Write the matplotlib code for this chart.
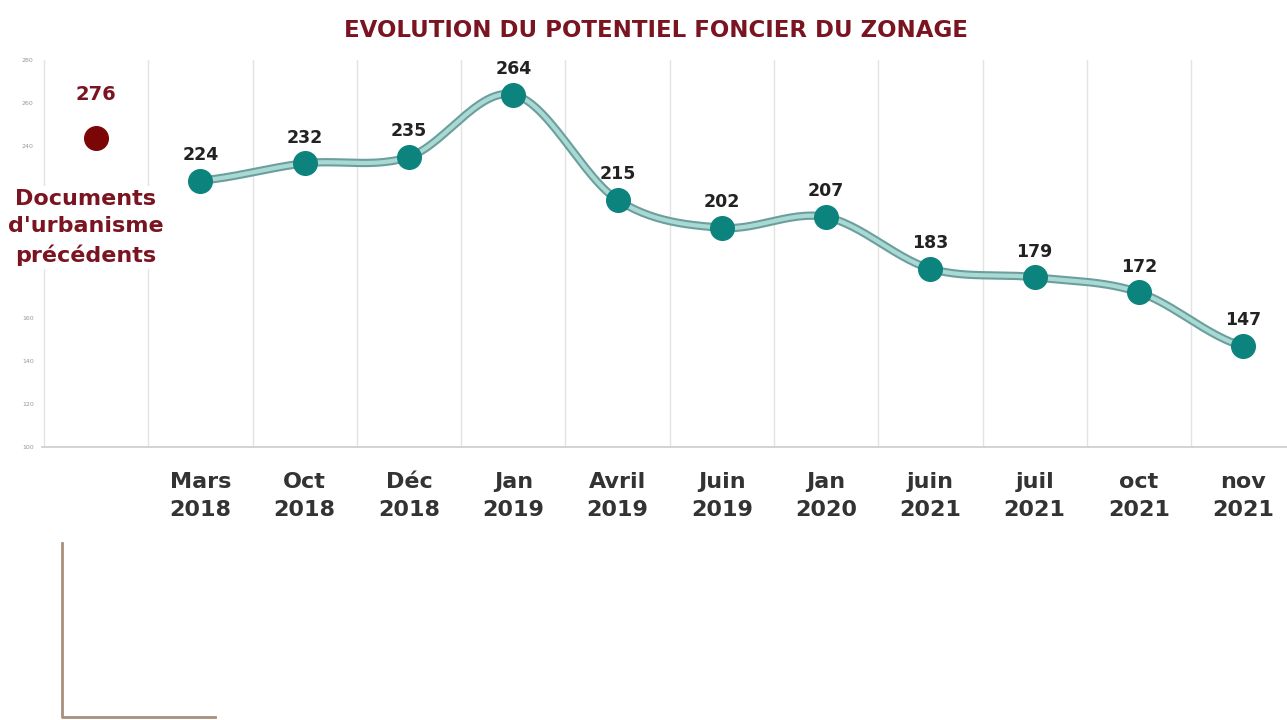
import numpy as np
import matplotlib.pyplot as plt
from matplotlib.lines import Line2D

# Data
months = ['Mars\n2018', 'Oct\n2018', 'Déc\n2018', 'Jan\n2019', 'Avril\n2019',
          'Juin\n2019', 'Jan\n2020', 'juin\n2021', 'juil\n2021', 'oct\n2021', 'nov\n2021']
potentiel = [224, 232, 235, 264, 215, 202, 207, 183, 179, 172, 147]
prev_value = 276
prev_label = "Documents\nd'urbanisme\nprécédents"
yticks = [100, 120, 140, 160, 240, 260, 280]  # 180-220 are hidden behind the label

teal = '#0d837e'
dark_red = '#7a1420'

plt.rcParams['font.family'] = ['DejaVu Sans']


def catmull_rom(x, y, n=30):
    # smooth curve through all points
    x = np.asarray(x, float)
    y = np.asarray(y, float)
    px = np.concatenate([[2 * x[0] - x[1]], x, [2 * x[-1] - x[-2]]])
    py = np.concatenate([[y[0]], y, [y[-1]]])
    xs, ys = [], []
    t = np.linspace(0, 1, n)
    for i in range(1, len(px) - 2):
        p0, p1, p2, p3 = py[i - 1], py[i], py[i + 1], py[i + 2]
        q0, q1, q2, q3 = px[i - 1], px[i], px[i + 1], px[i + 2]
        f = lambda a, b, c, d: 0.5 * ((2 * b) + (-a + c) * t +
                                      (2 * a - 5 * b + 4 * c - d) * t ** 2 +
                                      (-a + 3 * b - 3 * c + d) * t ** 3)
        xs.append(f(q0, q1, q2, q3))
        ys.append(f(p0, p1, p2, p3))
    return np.concatenate(xs), np.concatenate(ys)


fig = plt.figure(figsize=(12.87, 7.2), dpi=100)
ax = fig.add_axes([0.0326, 0.379, 0.9674, 0.5375])

x = np.arange(1, len(potentiel) + 1)
ax.set_xlim(-0.52, 11.42)
ax.set_ylim(100, 280)

# vertical separators
for gx in np.arange(-0.5, 11, 1.0):
    ax.axvline(gx, color='#e3e3e3', lw=1, zorder=0)

# smooth line with a light inner band
sx, sy = catmull_rom(x, potentiel)
ax.plot(sx, sy, color='#6c9f9b', lw=6, solid_capstyle='round', zorder=3)
ax.plot(sx, sy, color='#a9d9d5', lw=3, solid_capstyle='round', zorder=4)
ax.plot(x, potentiel, 'o', color=teal, ms=17, zorder=5)

for xi, v in zip(x, potentiel):
    ax.annotate(str(v), (xi, v), xytext=(0, 18.5), textcoords='offset points',
                ha='center', va='center', fontsize=12.5, fontweight='bold',
                color='#222222', zorder=6)

# previous documents marker (legend-like, drawn at its own spot)
ax.plot([0], [0.80], 'o', color='#7b0608', ms=17, transform=ax.get_xaxis_transform(),
        zorder=5)
ax.text(0, 0.912, str(prev_value), transform=ax.get_xaxis_transform(), ha='center',
        va='center', fontsize=14, fontweight='bold', color=dark_red, zorder=6)
ax.text(0.42 / 11.94, 0.568, prev_label, transform=ax.transAxes, ha='center', va='center',
        fontsize=16, fontweight='bold', color=dark_red, linespacing=1.45, zorder=10,
        clip_on=False,
        bbox=dict(boxstyle='square,pad=0.15', fc='white', ec='none'))

ax.set_xticks(x)
ax.set_xticklabels(months, fontsize=16, fontweight='bold', color='#333333',
                   linespacing=1.5)
ax.set_yticks(yticks)
ax.set_yticklabels([str(v) for v in yticks], fontsize=4.5, color='#999999')
ax.tick_params(axis='x', length=0, pad=18)
ax.tick_params(axis='y', length=0, pad=6)

for s in ['top', 'right', 'left']:
    ax.spines[s].set_visible(False)
ax.spines['bottom'].set_color('#cccccc')
ax.spines['bottom'].set_linewidth(1.2)

fig.text(0.51, 0.958, 'EVOLUTION DU POTENTIEL FONCIER DU ZONAGE', ha='center',
         va='center', fontsize=16.5, fontweight='bold', color=dark_red)

# decorative corner bracket at bottom left
fig.add_artist(Line2D([62 / 1287, 62 / 1287, 215 / 1287],
                      [1 - 543 / 720, 1 - 717 / 720, 1 - 717 / 720],
                      color='#a88f7c', lw=2))

fig.savefig('out.png', dpi=100)
